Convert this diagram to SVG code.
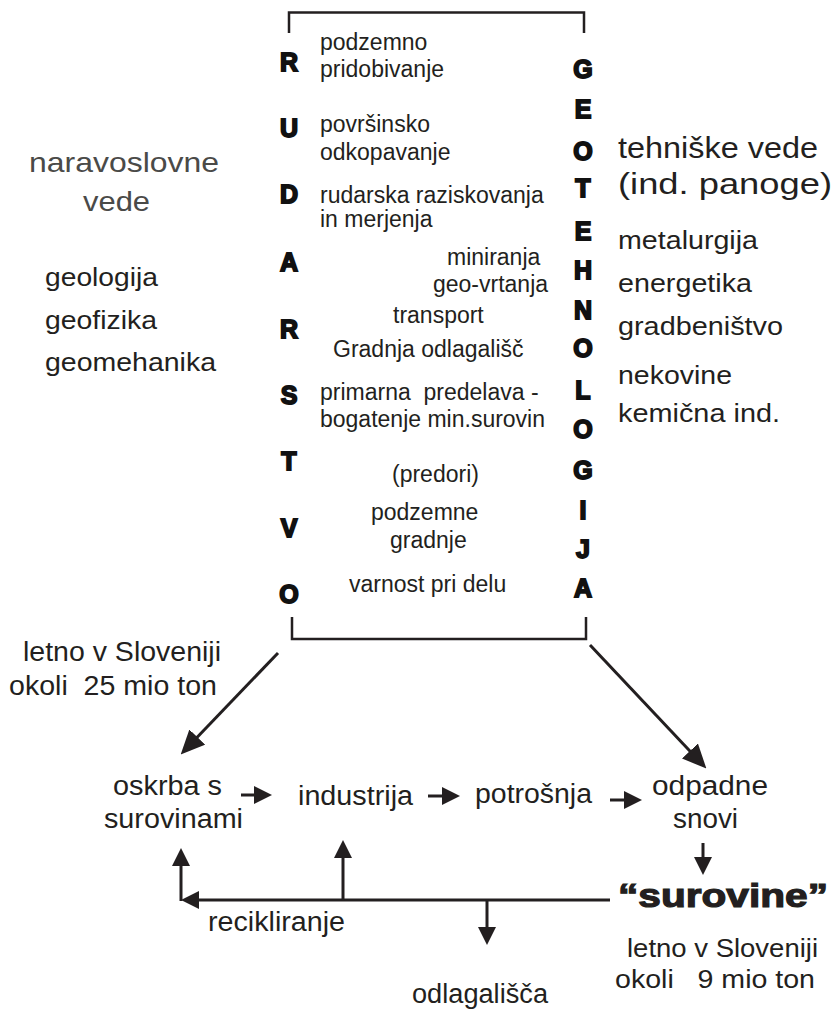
<svg xmlns="http://www.w3.org/2000/svg" width="834" height="1010" viewBox="0 0 834 1010">
<defs>
<style>
text{font-family:"Liberation Sans",Arial,sans-serif;fill:#231f20}
.m{font-size:23px}
.big{font-size:27px}
.grey{fill:#4a4a48}
.L{font-size:25px;font-weight:bold;stroke:#111;stroke-width:1.8px;fill:#111;text-anchor:middle}
.ln{fill:none;stroke:#231f20;stroke-width:3}
.br{fill:none;stroke:#231f20;stroke-width:2.5}
</style>
<marker id="ah" markerUnits="userSpaceOnUse" markerWidth="18" markerHeight="18" viewBox="0 0 18 18" refX="10" refY="9" orient="auto">
<path d="M0,0 L18,9 L0,18 z" fill="#231f20"/>
</marker>
<marker id="ahb" markerUnits="userSpaceOnUse" markerWidth="24" markerHeight="22" viewBox="0 0 24 22" refX="14" refY="11" orient="auto">
<path d="M0,0 L24,11 L0,22 z" fill="#231f20"/>
</marker>
</defs>
<rect width="834" height="1010" fill="#fff"/>

<g id="bracket-top"><path class="br" d="M289,33 V12.5 H584 V33"/></g>
<g id="bracket-bottom"><path class="br" d="M292,617 V639 H586 V617"/></g>

<g id="rudarstvo">
<text class="L" x="289" y="71">R</text>
<text class="L" x="289" y="137">U</text>
<text class="L" x="289" y="203">D</text>
<text class="L" x="289" y="271">A</text>
<text class="L" x="289" y="338">R</text>
<text class="L" x="289" y="404">S</text>
<text class="L" x="289" y="470">T</text>
<text class="L" x="289" y="537">V</text>
<text class="L" x="289" y="603">O</text>
</g>

<g id="geotehnologija">
<text class="L" x="583" y="78">G</text>
<text class="L" x="583" y="118">E</text>
<text class="L" x="583" y="160">O</text>
<text class="L" x="583" y="197">T</text>
<text class="L" x="583" y="240">E</text>
<text class="L" x="583" y="279">H</text>
<text class="L" x="583" y="319">N</text>
<text class="L" x="583" y="357">O</text>
<text class="L" x="583" y="399">L</text>
<text class="L" x="583" y="438">O</text>
<text class="L" x="583" y="479">G</text>
<text class="L" x="583" y="519">I</text>
<text class="L" x="583" y="558">J</text>
<text class="L" x="583" y="597">A</text>
</g>

<g id="activities">
<text class="m" x="320" y="50">podzemno</text>
<text class="m" x="320" y="77">pridobivanje</text>
<text class="m" x="320" y="132">površinsko</text>
<text class="m" x="320" y="160">odkopavanje</text>
<text class="m" x="320" y="203">rudarska raziskovanja</text>
<text class="m" x="320" y="227">in merjenja</text>
<text class="m" x="447" y="265">miniranja</text>
<text class="m" x="433" y="292">geo-vrtanja</text>
<text class="m" x="393" y="323">transport</text>
<text class="m" x="333" y="357">Gradnja odlagališč</text>
<text class="m" x="320" y="400" xml:space="preserve">primarna  predelava -</text>
<text class="m" x="320" y="427">bogatenje min.surovin</text>
<text class="m" x="392" y="482">(predori)</text>
<text class="m" x="371" y="520">podzemne</text>
<text class="m" x="390" y="548">gradnje</text>
<text class="m" x="349" y="592">varnost pri delu</text>
</g>

<g id="naravoslovne">
<text class="grey" style="font-size:28px" x="29" y="172" textLength="190" lengthAdjust="spacingAndGlyphs">naravoslovne</text>
<text class="grey" style="font-size:28px" x="83" y="211" textLength="67" lengthAdjust="spacingAndGlyphs">vede</text>
<text style="font-size:26px" x="45" y="286" textLength="113" lengthAdjust="spacingAndGlyphs">geologija</text>
<text style="font-size:26px" x="45" y="329" textLength="112" lengthAdjust="spacingAndGlyphs">geofizika</text>
<text style="font-size:26px" x="45" y="371" textLength="171" lengthAdjust="spacingAndGlyphs">geomehanika</text>
</g>

<g id="tehniske">
<text style="font-size:29px" x="618" y="158" textLength="200" lengthAdjust="spacingAndGlyphs">tehniške vede</text>
<text style="font-size:29px" x="618" y="194" textLength="214" lengthAdjust="spacingAndGlyphs">(ind. panoge)</text>
<text style="font-size:26px" x="618" y="249" textLength="140" lengthAdjust="spacingAndGlyphs">metalurgija</text>
<text style="font-size:26px" x="618" y="292" textLength="134" lengthAdjust="spacingAndGlyphs">energetika</text>
<text style="font-size:26px" x="618" y="335" textLength="165" lengthAdjust="spacingAndGlyphs">gradbeništvo</text>
<text style="font-size:26px" x="618" y="384" textLength="114" lengthAdjust="spacingAndGlyphs">nekovine</text>
<text style="font-size:26px" x="618" y="422" textLength="162" lengthAdjust="spacingAndGlyphs">kemična ind.</text>
</g>

<g id="note-25">
<text class="big" x="23" y="661" textLength="198" lengthAdjust="spacingAndGlyphs">letno v Sloveniji</text>
<text class="big" x="9" y="695" textLength="208" lengthAdjust="spacingAndGlyphs" xml:space="preserve">okoli  25 mio ton</text>
</g>

<g id="oskrba">
<text class="big" x="113" y="795" textLength="109" lengthAdjust="spacingAndGlyphs">oskrba s</text>
<text class="big" x="104" y="828" textLength="139" lengthAdjust="spacingAndGlyphs">surovinami</text>
</g>
<g id="industrija"><text class="big" x="298" y="805" textLength="115" lengthAdjust="spacingAndGlyphs">industrija</text></g>
<g id="potrosnja"><text class="big" x="475" y="803" textLength="117" lengthAdjust="spacingAndGlyphs">potrošnja</text></g>
<g id="odpadne">
<text class="big" x="652" y="795" textLength="116" lengthAdjust="spacingAndGlyphs">odpadne</text>
<text class="big" x="673" y="828" textLength="65" lengthAdjust="spacingAndGlyphs">snovi</text>
</g>
<g id="surovine">
<text style="font-size:34px;font-weight:bold;stroke:#231f20;stroke-width:1.2" x="618" y="907" textLength="210" lengthAdjust="spacingAndGlyphs">“surovine”</text>
<text style="font-size:26px" x="627" y="957" textLength="191" lengthAdjust="spacingAndGlyphs">letno v Sloveniji</text>
<text style="font-size:26px" x="615" y="988" textLength="200" lengthAdjust="spacingAndGlyphs" xml:space="preserve">okoli   9 mio ton</text>
</g>
<g id="recikliranje"><text class="big" x="208" y="931" textLength="137" lengthAdjust="spacingAndGlyphs">recikliranje</text></g>
<g id="odlagalisca"><text class="big" x="412" y="1003" textLength="136" lengthAdjust="spacingAndGlyphs">odlagališča</text></g>

<g id="connectors">
<line class="ln" x1="278" y1="653" x2="187.6" y2="747.2" marker-end="url(#ahb)"/>
<line class="ln" x1="590" y1="645" x2="699.5" y2="761.2" marker-end="url(#ahb)"/>
<line class="ln" x1="241" y1="795" x2="264" y2="795" marker-end="url(#ah)"/>
<line class="ln" x1="428" y1="796" x2="452" y2="796" marker-end="url(#ah)"/>
<line class="ln" x1="610" y1="800" x2="634" y2="800" marker-end="url(#ah)"/>
<line class="ln" x1="703" y1="843" x2="703" y2="867" marker-end="url(#ah)"/>
<line class="ln" x1="610" y1="900" x2="189" y2="900" marker-end="url(#ah)"/>
<line class="ln" x1="181" y1="901" x2="181" y2="856" marker-end="url(#ah)"/>
<line class="ln" x1="343" y1="901" x2="343" y2="848" marker-end="url(#ah)"/>
<line class="ln" x1="487" y1="899" x2="487" y2="937" marker-end="url(#ah)"/>
</g>
</svg>
